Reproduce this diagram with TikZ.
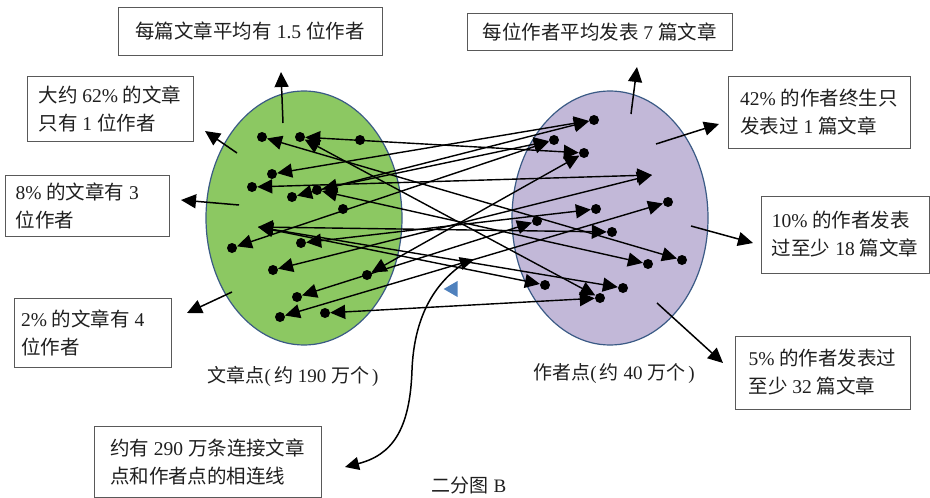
\documentclass[tikz,border=0pt]{standalone}
\usepackage{fontspec}
\setmainfont{Liberation Serif}
\newfontfamily\cjk{Noto Sans CJK SC}
\newcommand\zh[1]{{\cjk #1}}
\usetikzlibrary{arrows.meta,shapes.geometric,decorations.markings}
\definecolor{artgreen}{HTML}{8CC862}
\definecolor{authpurple}{HTML}{C2B8D8}
\definecolor{ringblue}{HTML}{3A5A85}
\definecolor{markblue}{HTML}{4F81BD}
\begin{document}
\begin{tikzpicture}[x=1pt,y=-1pt,
  box/.style={draw=black!65, line width=0.9pt, fill=white, align=left, inner sep=0pt,
    font=\fontsize{19.5}{28}\selectfont, text=black!88},
  lbl/.style={font=\fontsize{19}{24}\selectfont, text=black!88},
  outarrow/.style={line width=1.5pt, -{Triangle[length=15pt,width=14pt]}},
  link/.style={line width=1.4pt, {Triangle[length=15pt,width=14pt]}-{Triangle[length=15pt,width=14pt]}},
  dotn/.style={circle, fill=black, inner sep=0pt, minimum size=10pt},
  setshape/.style={ellipse, draw=ringblue, line width=1.2pt, inner sep=0pt,
    minimum width=196pt, minimum height=254pt}]
\useasboundingbox (0,0) rectangle (930,498);

% ellipses
\node[setshape, fill=artgreen] (art) at (304,218) {};
\node[setshape, fill=authpurple] (auth) at (610,218) {};

% boxes
\node[box, minimum width=264pt, minimum height=48pt] (b1) at (250,31) {\zh{每篇文章平均有} 1.5 \zh{位作者}};
\node[box, minimum width=166pt, minimum height=65pt] (b2) at (110,108.5) {\zh{大约} 62\% \zh{的文章}\\\zh{只有} 1 \zh{位作者}};
\node[box, minimum width=164pt, minimum height=61pt] (b3) at (87,205.5) {8\% \zh{的文章有} 3\phantom{\zh{位}}\\\zh{位作者}};
\node[box, minimum width=157pt, minimum height=69pt] (b4) at (92.5,332.5) {2\% \zh{的文章有} 4\phantom{\zh{位}}\\\zh{位作者}};
\node[box, minimum width=227pt, minimum height=71pt] (b5) at (207.5,461.5) {\zh{约有} 290 \zh{万条连接文章}\\\zh{点和作者点的相连线}};
\node[box, minimum width=265pt, minimum height=37pt] (b6) at (599.5,31.5) {\zh{每位作者平均发表} 7 \zh{篇文章}};
\node[box, minimum width=182pt, minimum height=72pt] (b7) at (819,112) {42\% \zh{的作者终生只}\\\zh{发表过} 1 \zh{篇文章}};
\node[box, minimum width=168pt, minimum height=77pt] (b8) at (845,234.5) {10\% \zh{的作者发表}\\\zh{过至少} 18 \zh{篇文章}};
\node[box, minimum width=175pt, minimum height=73pt] (b9) at (822.5,372.5) {5\% \zh{的作者发表过}\\\zh{至少} 32 \zh{篇文章}};

% labels
\node[lbl] (artlbl) at (293,376) {\zh{文章点}(\,\zh{约} 190 \zh{万个}\,)};
\node[lbl] (authlbl) at (614,374) {\zh{作者点}(\,\zh{约} 40 \zh{万个}\,)};
\node[lbl] (title) at (469,485) {\zh{二分图} B};

% blue marker
\node[isosceles triangle, shape border rotate=180, fill=markblue, inner sep=0pt,
  minimum width=12pt, minimum height=14pt, isosceles triangle apex angle=60] (bm) at (453,289) {};

% outward arrows
\coordinate (o1s) at (283,123); \coordinate (o1e) at (281,72);
\coordinate (o2s) at (237,153); \coordinate (o2e) at (205,131);
\coordinate (o3s) at (239,205); \coordinate (o3e) at (181,200);
\coordinate (o4s) at (232,292); \coordinate (o4e) at (187,313);
\coordinate (o5s) at (631,114); \coordinate (o5e) at (637,67);
\coordinate (o6s) at (656,144); \coordinate (o6e) at (719,124);
\coordinate (o7s) at (691,226); \coordinate (o7e) at (753,243);
\coordinate (o8s) at (657,303); \coordinate (o8e) at (723,363);
\foreach \i in {1,...,8} \draw[outarrow] (o\i s) -- (o\i e);

% article dots
\node[dotn] (L1) at (262,137) {};
\node[dotn] (L2) at (300,137) {};
\node[dotn] (L3) at (360,140) {};
\node[dotn] (L4) at (272,174) {};
\node[dotn] (L5) at (252,187) {};
\node[dotn] (L6) at (317,190) {};
\node[dotn] (L7) at (292,197) {};
\node[dotn] (L8) at (343,209) {};
\coordinate (L9) at (258,227);
\node[dotn] (L10) at (232,248) {};
\node[dotn] (L11) at (301,243) {};
\node[dotn] (L12) at (273,270) {};
\node[dotn] (L13) at (367,275) {};
\node[dotn] (L14) at (297,297) {};
\node[dotn] (L15) at (280,317) {};
\node[dotn] (L16) at (325,313) {};

% author dots
\node[dotn] (R1) at (594,120) {};
\node[dotn] (R2) at (554,140) {};
\node[dotn] (R3) at (584,153) {};
\coordinate (R4) at (652,175);
\node[dotn] (R5) at (596,209) {};
\node[dotn] (R6) at (537,221) {};
\node[dotn] (R7) at (668,202) {};
\node[dotn] (R8) at (612,232) {};
\node[dotn] (R9) at (682,260) {};
\node[dotn] (R10) at (648,264) {};
\node[dotn] (R11) at (545,285) {};
\node[dotn] (R12) at (623,288) {};
\node[dotn] (R13) at (600,298) {};

% links
\draw[link] (L1) -- (R9);
\draw[link] (L2) -- (R3);
\draw[link] (L2) -- (R13);
\draw[link] (L4) -- (R1);
\draw[link] (L5) -- (R4);
\draw[link] (L6) -- (R2);
\draw[link] (L6) -- (R10);
\draw[link] (L7) -- (R1);
\draw[link] (L9) -- (R8);
\draw[link] (L9) -- (R12);
\draw[link] (L9) -- (R11);
\draw[link] (L10) -- (R2);
\draw[link] (L11) -- (R5);
\draw[link] (L12) -- (R4);
\draw[link] (L13) -- (R3);
\draw[link] (L14) -- (R6);
\draw[link, postaction={decorate}, decoration={markings,
  mark=at position 0.5 with {\arrow{Triangle[length=14pt,width=13pt]}}}] (L15) -- (R7);
\draw[link] (L16) -- (R13);

% curved pointer
\coordinate (cs) at (466,262);
\coordinate (ce) at (345,467);
\draw[line width=1.5pt, -{Triangle[length=14pt,width=13pt]}] (cs) .. controls (432,284) and (414,320) .. (412,370) .. controls (410,430) and (392,455) .. (ce);
\end{tikzpicture}
\end{document}
